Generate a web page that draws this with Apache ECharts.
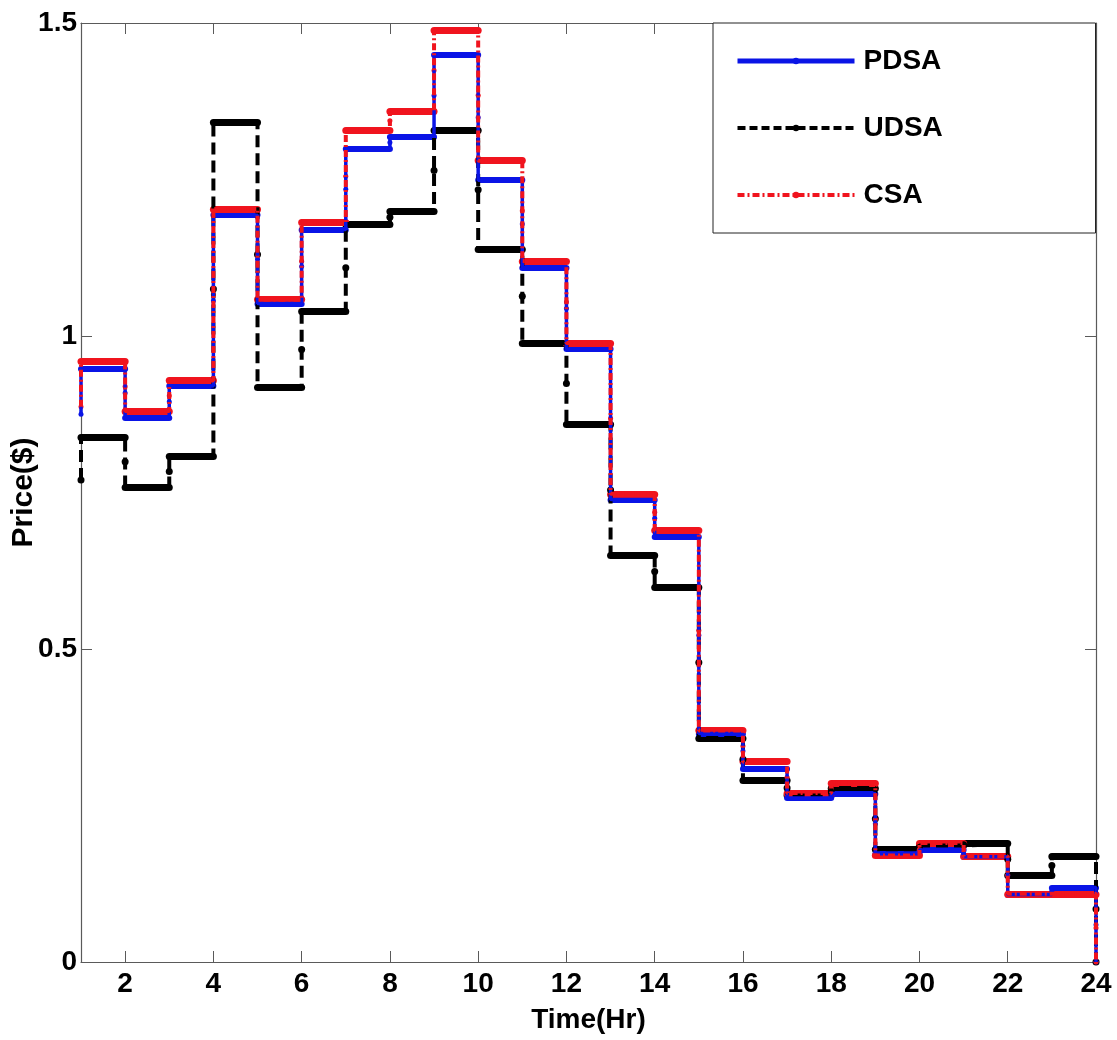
<!DOCTYPE html>
<html>
<head>
<meta charset="utf-8">
<script src="https://cdn.jsdelivr.net/npm/echarts@6/dist/echarts.min.js"></script>
<style>
html,body{margin:0;padding:0;background:#fff;}
#chart{width:1117px;height:1040px;}
</style>
</head>
<body>
<div id="chart"></div>
<script>
// ---- data ----
const hours = [1,2,3,4,5,6,7,8,9,10,11,12,13,14,15,16,17,18,19,20,21,22,23,24];
const xTicks = [2,4,6,8,10,12,14,16,18,20,22,24];
// starting value at hour 1 (before the first step) and value after hour 24
const pdsaStart = 0.875;
const udsaStart = 0.770;
const csaStart = 0.887;
const endValue = 0;
// price during each hour 1..23
const pdsa = [0.948,0.870,0.920,1.193,1.052,1.170,1.299,1.319,1.449,1.249,1.109,0.979,0.739,0.679,0.365,0.309,0.262,0.269,0.173,0.179,0.168,0.108,0.119];
const udsa = [0.839,0.759,0.808,1.342,0.918,1.039,1.179,1.200,1.329,1.138,0.989,0.859,0.649,0.599,0.358,0.290,0.266,0.278,0.180,0.186,0.189,0.139,0.169];
const csa  = [0.959,0.880,0.929,1.203,1.058,1.181,1.329,1.359,1.489,1.280,1.120,0.989,0.748,0.689,0.370,0.320,0.270,0.286,0.170,0.190,0.169,0.109,0.109];

// ---- helpers building library data ----
function stepData(start, vals){
  const d = [[hours[0], start]];
  vals.forEach((v,i)=>d.push([hours[i], v]));
  d.push([hours[hours.length-1], endValue]);
  return d;
}
function segData(vals){
  return vals.map((v,i)=>({coords:[[hours[i], v],[hours[i+1], v]]}));
}
function dotData(start, vals){
  const d = [[hours[0], start]];
  for(let i=1;i<vals.length;i++) d.push([hours[i], (vals[i-1]+vals[i])/2]);
  d.push([hours[hours.length-1], (vals[vals.length-1]+endValue)/2]);
  d.push([hours[hours.length-1], endValue]);
  return d;
}

const FONT = "'Liberation Sans',Arial,sans-serif";
const BLUE = '#0a14e6', BLACK = '#000000', RED = '#f0141e';
const AX = '#5a5a5a';

function group(name, color, start, vals, dash, vWidth, hWidth, dotSize){
  return [
    {
      name: name, type: 'line', data: stepData(start, vals), step: 'end',
      symbol: 'circle', symbolSize: 6, showSymbol: false,
      itemStyle: {color: color},
      lineStyle: {color: color, width: vWidth, type: dash},
      animation: false, silent: true
    },
    {
      name: name + '_h', type: 'lines', coordinateSystem: 'cartesian2d',
      data: segData(vals),
      lineStyle: {color: color, width: hWidth, type: 'solid', opacity: 1, cap: 'round'},
      animation: false, silent: true
    },
    {
      name: name + '_d', type: 'scatter', data: dotData(start, vals),
      symbol: 'circle', symbolSize: dotSize,
      itemStyle: {color: color, opacity: 1},
      animation: false, silent: true
    }
  ];
}

const series = [].concat(
  group('UDSA', BLACK, udsaStart, udsa, [12,6], 4, 7, 7),
  group('PDSA', BLUE, pdsaStart, pdsa, 'solid', 3.5, 6, 5),
  group('CSA', RED, csaStart, csa, [7,3,2,3], 4, 7, 5)
);

const chart = echarts.init(document.getElementById('chart'), null, {renderer: 'canvas'});
chart.setOption({
  animation: false,
  backgroundColor: '#ffffff',
  grid: {left: 81, right: 21, top: 23, bottom: 78, containLabel: false, outerBoundsMode: 'none'},
  legend: {
    orient: 'vertical', left: 713, top: 23,
    padding: [20, 152, 20, 22],
    itemGap: 31, itemWidth: 117, itemHeight: 8,
    backgroundColor: '#ffffff', borderColor: '#222', borderWidth: 1, borderRadius: 0,
    selectedMode: false,
    textStyle: {fontFamily: FONT, fontWeight: 'bold', fontSize: 28, color: '#000', width: 80, lineHeight: 36, padding: [0,0,0,4], overflow: 'none'},
    data: [
      {name: 'PDSA', lineStyle: {width: 5, type: 'solid'}},
      {name: 'UDSA', lineStyle: {width: 4, type: [8,4]}},
      {name: 'CSA', lineStyle: {width: 4, type: [7,3,2,3]}}
    ]
  },
  xAxis: [
    {
      type: 'value', min: 1, max: 24, position: 'bottom',
      name: 'Time(Hr)', nameLocation: 'middle', nameGap: 44, nameMoveOverlap: false,
      nameTextStyle: {fontFamily: FONT, fontWeight: 'bold', fontSize: 28, color: '#000'},
      axisLine: {show: true, onZero: false, lineStyle: {color: AX, width: 1.2}},
      axisTick: {show: true, inside: true, length: 11, customValues: xTicks, lineStyle: {color: AX, width: 1}},
      axisLabel: {show: true, margin: 8, customValues: xTicks, fontFamily: FONT, fontWeight: 'bold', fontSize: 28, color: '#000'},
      splitLine: {show: false}
    },
    {
      type: 'value', min: 1, max: 24, position: 'top',
      axisLine: {show: true, onZero: false, lineStyle: {color: AX, width: 1.2}},
      axisTick: {show: true, inside: true, length: 11, customValues: xTicks, lineStyle: {color: AX, width: 1}},
      axisLabel: {show: false},
      splitLine: {show: false}
    }
  ],
  yAxis: [
    {
      type: 'value', min: 0, max: 1.5, interval: 0.5, position: 'left',
      name: 'Price($)', nameLocation: 'middle', nameGap: 42, nameRotate: 90, nameMoveOverlap: false,
      nameTextStyle: {fontFamily: FONT, fontWeight: 'bold', fontSize: 30, color: '#000'},
      axisLine: {show: true, onZero: false, lineStyle: {color: AX, width: 1.2}},
      axisTick: {show: true, inside: true, length: 11, lineStyle: {color: AX, width: 1}},
      axisLabel: {show: true, margin: 4, fontFamily: FONT, fontWeight: 'bold', fontSize: 28, color: '#000'},
      splitLine: {show: false}
    },
    {
      type: 'value', min: 0, max: 1.5, interval: 0.5, position: 'right',
      axisLine: {show: true, onZero: false, lineStyle: {color: AX, width: 1.2}},
      axisTick: {show: true, inside: true, length: 11, lineStyle: {color: AX, width: 1}},
      axisLabel: {show: false},
      splitLine: {show: false}
    }
  ],
  series: series
});
</script>
</body>
</html>
